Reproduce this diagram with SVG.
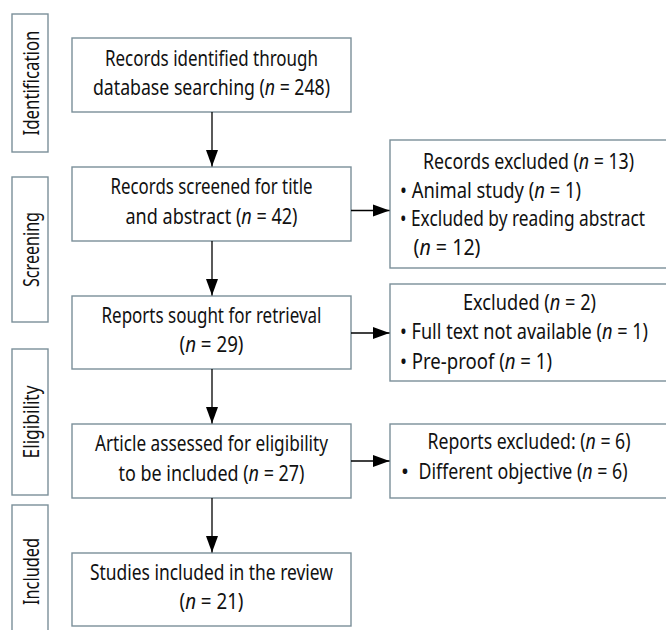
<svg xmlns="http://www.w3.org/2000/svg" width="666" height="630" viewBox="0 0 666 630">
<defs>
<style>
.box{fill:#fff;stroke:#7b8f99;stroke-width:1.4}
.t{font-family:"Noto Sans","Open Sans","Liberation Sans",sans-serif;font-size:21px;fill:#111}
.c{text-anchor:middle}
.i{font-style:italic}
.ln{stroke:#000;stroke-width:1.3;fill:none}
</style>
<marker id="ah" markerUnits="userSpaceOnUse" markerWidth="18" markerHeight="14" viewBox="0 0 18 14" refX="17" refY="7" orient="auto">
<path d="M0,0.8 L17,7 L0,13.2 Z" fill="#000"/>
</marker>
</defs>
<rect width="666" height="630" fill="#fff"/>

<g id="stage-identification">
<rect class="box" x="12" y="14" width="36" height="138"/>
<text class="t c" transform="translate(38.5,83) rotate(-90)" textLength="105" lengthAdjust="spacingAndGlyphs">Identification</text>
</g>
<g id="stage-screening">
<rect class="box" x="12" y="177" width="36" height="145"/>
<text class="t c" transform="translate(38.5,249.5) rotate(-90)" textLength="75" lengthAdjust="spacingAndGlyphs">Screening</text>
</g>
<g id="stage-eligibility">
<rect class="box" x="12" y="349" width="36" height="146"/>
<text class="t c" transform="translate(38.5,422) rotate(-90)" textLength="73" lengthAdjust="spacingAndGlyphs">Eligibility</text>
</g>
<g id="stage-included">
<rect class="box" x="12" y="505" width="36" height="140"/>
<text class="t c" transform="translate(38.5,571.5) rotate(-90)" textLength="67" lengthAdjust="spacingAndGlyphs">Included</text>
</g>

<g id="identified">
<rect class="box" x="72" y="38" width="279" height="74"/>
<text class="t c" x="211.5" y="65.5" textLength="213" lengthAdjust="spacingAndGlyphs">Records identified through</text>
<text class="t c" x="211.5" y="94.5" textLength="237" lengthAdjust="spacingAndGlyphs">database searching (<tspan class="i">n</tspan> = 248)</text>
</g>
<g id="screened">
<rect class="box" x="72" y="167" width="279" height="74"/>
<text class="t c" x="211.5" y="194" textLength="202" lengthAdjust="spacingAndGlyphs">Records screened for title</text>
<text class="t c" x="211.5" y="223.5" textLength="172" lengthAdjust="spacingAndGlyphs">and abstract (<tspan class="i">n</tspan> = 42)</text>
</g>
<g id="sought">
<rect class="box" x="72" y="296" width="279" height="73"/>
<text class="t c" x="211.5" y="323" textLength="220" lengthAdjust="spacingAndGlyphs">Reports sought for retrieval</text>
<text class="t c" x="211.5" y="352" textLength="64" lengthAdjust="spacingAndGlyphs">(<tspan class="i">n</tspan> = 29)</text>
</g>
<g id="assessed">
<rect class="box" x="72" y="424" width="279" height="74"/>
<text class="t c" x="211.5" y="451" textLength="233" lengthAdjust="spacingAndGlyphs">Article assessed for eligibility</text>
<text class="t c" x="211.5" y="480.5" textLength="186" lengthAdjust="spacingAndGlyphs">to be included (<tspan class="i">n</tspan> = 27)</text>
</g>
<g id="included">
<rect class="box" x="72" y="553" width="279" height="73"/>
<text class="t c" x="211.5" y="580" textLength="243" lengthAdjust="spacingAndGlyphs">Studies included in the review</text>
<text class="t c" x="211.5" y="609" textLength="64" lengthAdjust="spacingAndGlyphs">(<tspan class="i">n</tspan> = 21)</text>
</g>

<g id="records-excluded">
<rect class="box" x="390" y="140" width="290" height="128"/>
<text class="t c" x="528.5" y="169" textLength="211" lengthAdjust="spacingAndGlyphs">Records excluded (<tspan class="i">n</tspan> = 13)</text>
<text class="t" x="400" y="197.5" textLength="181" lengthAdjust="spacingAndGlyphs">• Animal study (<tspan class="i">n</tspan> = 1)</text>
<text class="t" x="400" y="225.5" textLength="245" lengthAdjust="spacingAndGlyphs">• Excluded by reading abstract</text>
<text class="t" x="413.5" y="254.5" textLength="67" lengthAdjust="spacingAndGlyphs">(<tspan class="i">n</tspan> = 12)</text>
</g>
<g id="excluded">
<rect class="box" x="390" y="284" width="290" height="97"/>
<text class="t c" x="529.5" y="310" textLength="133" lengthAdjust="spacingAndGlyphs">Excluded (<tspan class="i">n</tspan> = 2)</text>
<text class="t" x="400" y="339" textLength="248" lengthAdjust="spacingAndGlyphs">• Full text not available (<tspan class="i">n</tspan> = 1)</text>
<text class="t" x="400" y="369" textLength="152" lengthAdjust="spacingAndGlyphs">• Pre-proof (<tspan class="i">n</tspan> = 1)</text>
</g>
<g id="reports-excluded">
<rect class="box" x="390" y="424" width="290" height="74"/>
<text class="t c" x="529" y="449" textLength="203" lengthAdjust="spacingAndGlyphs">Reports excluded: (<tspan class="i">n</tspan> = 6)</text>
<text class="t" x="401" y="479">•</text>
<text class="t" x="418.5" y="479" textLength="209" lengthAdjust="spacingAndGlyphs">Different objective (<tspan class="i">n</tspan> = 6)</text>
</g>

<g id="connectors">
<line class="ln" x1="212" y1="112" x2="212" y2="166.5" marker-end="url(#ah)"/>
<line class="ln" x1="212" y1="241" x2="212" y2="295.5" marker-end="url(#ah)"/>
<line class="ln" x1="212" y1="369" x2="212" y2="423.5" marker-end="url(#ah)"/>
<line class="ln" x1="212" y1="498" x2="212" y2="552.5" marker-end="url(#ah)"/>
<line class="ln" x1="351" y1="210.5" x2="389.5" y2="210.5" marker-end="url(#ah)"/>
<line class="ln" x1="351" y1="333" x2="389.5" y2="333" marker-end="url(#ah)"/>
<line class="ln" x1="351" y1="461" x2="389.5" y2="461" marker-end="url(#ah)"/>
</g>
</svg>
